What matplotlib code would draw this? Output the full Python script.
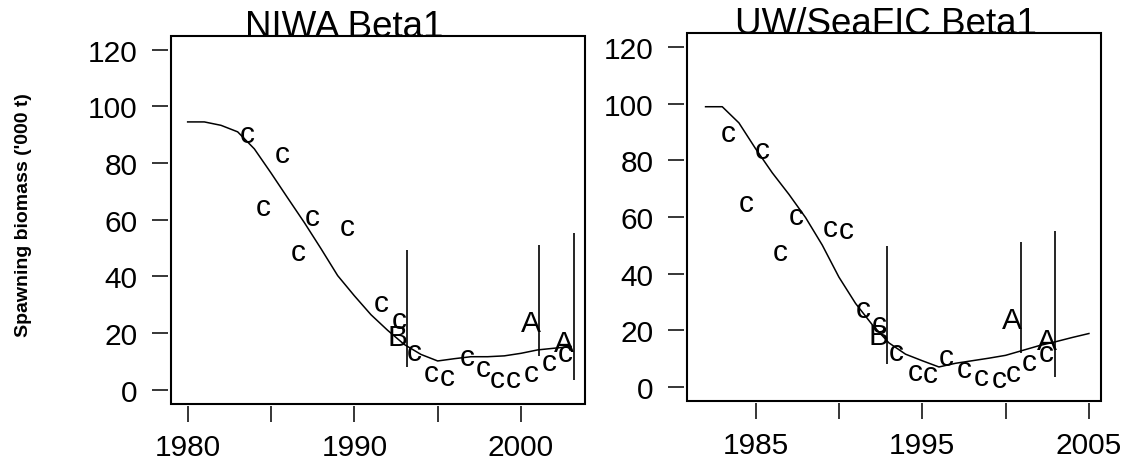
import matplotlib
matplotlib.use("Agg")
import matplotlib.pyplot as plt
from matplotlib.patches import Rectangle

plt.rcParams['font.family'] = ['Liberation Sans', 'DejaVu Sans']

# NIWA Beta1 - biomassa desovante (linha) e indices de CPUE (letras "c")
niwa_anos = list(range(1980, 2004))
niwa_ssb = [94.5, 94.5, 93.3, 91, 85, 76.5, 67.7, 59, 49.8, 40.3, 33.2, 26.5,
            21, 16, 12.5, 10.2, 11, 11.7, 11.7, 12, 12.9, 14.1, 14.7, 15.3]
niwa_c_x = [1983.55, 1984.55, 1985.65, 1986.65, 1987.5, 1989.6, 1991.6, 1992.7, 1993.6,
            1994.6, 1995.6, 1996.8, 1997.75, 1998.6, 1999.55, 2000.6, 2001.7, 2002.65]
niwa_c_y = [90.4, 64.6, 83.3, 48.7, 61, 57.5, 30.5, 24.6, 13.5,
            5.9, 4.7, 11.7, 7.6, 3.8, 3.8, 5.9, 10, 12.9]
niwa_lab = ["B", "A", "A"]
niwa_lab_x = [1992.6, 2000.6, 2002.6]
niwa_lab_y = [18.5, 23.5, 16.7]
niwa_ic_x = [1993.15, 2001.1, 2003.2]
niwa_ic_lo = [8.2, 11.8, 3.5]
niwa_ic_hi = [49.3, 51.1, 55.2]

# UW/SeaFIC Beta1
uw_anos = list(range(1982, 2006))
uw_ssb = [98.9, 98.9, 93.2, 84.1, 75.6, 68, 59.8, 50.1, 38.8, 29.5, 22, 15.6,
          11.6, 9.3, 7.1, 8.4, 9.3, 10.2, 11.2, 12.9, 14.6, 16, 17.5, 18.9]
uw_c_x = [1983.35, 1984.45, 1985.4, 1986.45, 1987.45, 1989.5, 1990.45, 1991.45, 1992.4, 1993.45,
          1994.55, 1995.45, 1996.45, 1997.5, 1998.55, 1999.6, 2000.45, 2001.4, 2002.45]
uw_c_y = [89.7, 64.9, 83.8, 47.8, 60.2, 56, 55.4, 27.7, 22.4, 12.4,
          5.3, 4.7, 10.6, 6.5, 3.5, 2.9, 5, 9, 12]
uw_lab = ["B", "A", "A"]
uw_lab_x = [1992.4, 2000.4, 2002.45]
uw_lab_y = [18, 23.8, 16.2]
uw_ic_x = [1992.9, 2000.95, 2002.95]
uw_ic_lo = [8.1, 12, 3.7]
uw_ic_hi = [49.6, 51.3, 55.1]

y_ticks = [0, 20, 40, 60, 80, 100, 120]
niwa_xticks = [1980, 1985, 1990, 1995, 2000]
niwa_xlabels = ["1980", "", "1990", "", "2000"]
uw_xticks = [1985, 1990, 1995, 2000, 2005]
uw_xlabels = ["1985", "", "1995", "", "2005"]

W, H = 1122, 464
fig = plt.figure(figsize=(W / 100, H / 100), dpi=100)

def eixo_px(x0, y0, x1, y1):
    # cria eixo a partir de coordenadas em pixels (origem no canto superior esquerdo)
    return fig.add_axes([x0 / W, 1 - y1 / H, (x1 - x0) / W, (y1 - y0) / H])

def painel(ax, anos, ssb, cx, cy, labs, lx, ly, vx, vlo, vhi, xlim, xticks, xlabels):
    ax.plot(anos, ssb, color="black", lw=1.1)
    for x, y in zip(cx, cy):
        ax.text(x, y, "c", fontsize=21.5, ha="center", va="center")
    for x, y, l in zip(lx, ly, labs):
        ax.text(x, y, l, fontsize=21.5, ha="center", va="center")
    ax.vlines(vx, vlo, vhi, color="black", lw=1.2)
    ax.set_xlim(xlim)
    ax.set_ylim(-4.8, 124.8)
    ax.set_yticks(y_ticks)
    ax.set_xticks(xticks)
    ax.set_xticklabels(xlabels)
    ax.tick_params(direction="out", length=11.5, width=1.1, labelsize=21.5)
    ax.tick_params(axis="x", pad=8)
    ax.tick_params(axis="y", pad=10.5)
    for s in ax.spines.values():
        s.set_visible(False)
    ax.spines["left"].set_position(("outward", 2))
    ax.spines["bottom"].set_position(("outward", 2))
    ax.add_patch(Rectangle((0, 0), 1, 1, transform=ax.transAxes, fill=False,
                           lw=1.5, edgecolor="black", clip_on=False))

ax1 = eixo_px(171, 37, 585, 404.5)
painel(ax1, niwa_anos, niwa_ssb, niwa_c_x, niwa_c_y, niwa_lab, niwa_lab_x, niwa_lab_y,
       niwa_ic_x, niwa_ic_lo, niwa_ic_hi, (1979.0, 2003.84), niwa_xticks, niwa_xlabels)

ax2 = eixo_px(687, 34.3, 1101, 401.7)
painel(ax2, uw_anos, uw_ssb, uw_c_x, uw_c_y, uw_lab, uw_lab_x, uw_lab_y,
       uw_ic_x, uw_ic_lo, uw_ic_hi, (1980.885, 2005.725), uw_xticks, uw_xlabels)

fig.text(344 / W, 1 - 37 / H, "NIWA Beta1", fontsize=26.5, ha="center", va="baseline")
fig.text(886 / W, 1 - 34.5 / H, "UW/SeaFIC Beta1", fontsize=26.5, ha="center", va="baseline")
fig.text(24 / W, 1 - 215 / H, "Spawning biomass ('000 t)", fontsize=14, fontweight="bold",
         rotation=90, ha="center", va="center")

plt.savefig("out.png", dpi=100)
